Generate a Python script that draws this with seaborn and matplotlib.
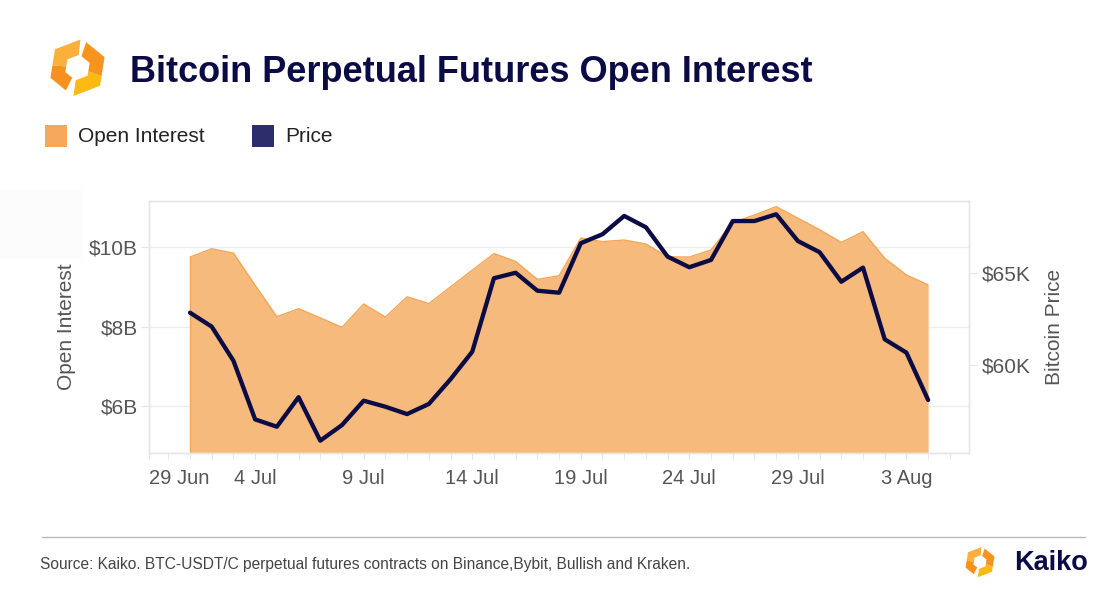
import numpy as np
import pandas as pd
import seaborn as sns
import matplotlib.pyplot as plt
import matplotlib.dates as mdates
from matplotlib.patches import Rectangle, Polygon
from matplotlib.lines import Line2D

# data (1 Jul .. 4 Aug)
dates = pd.date_range("2024-07-01", "2024-08-04", freq="D")
open_interest = [9.75, 9.96, 9.85, 9.04, 8.25, 8.45, 8.22, 7.98, 8.57, 8.24,
                 8.75, 8.58, 9.00, 9.42, 9.84, 9.64, 9.19, 9.28, 10.23, 10.14,
                 10.18, 10.08, 9.76, 9.75, 9.93, 10.62, 10.81, 11.02, 10.73, 10.44,
                 10.12, 10.39, 9.72, 9.30, 9.05]  # $B
price = [62.85, 62.09, 60.23, 57.03, 56.63, 58.24, 55.87, 56.72, 58.05, 57.72,
         57.32, 57.87, 59.22, 60.72, 64.73, 65.03, 64.05, 63.94, 66.64, 67.13,
         68.13, 67.51, 65.91, 65.33, 65.73, 67.85, 67.85, 68.22, 66.76, 66.15,
         64.54, 65.31, 61.40, 60.67, 58.09]  # $K
tick_dates = ["2024-07-04", "2024-07-09", "2024-07-14", "2024-07-19",
              "2024-07-24", "2024-07-29", "2024-08-03"]
tick_labels = ["4 Jul", "9 Jul", "14 Jul", "19 Jul", "24 Jul", "29 Jul", "3 Aug"]
oi_ticks = [6, 8, 10]
price_ticks = [60, 65]

df = pd.DataFrame({"date": dates, "oi": open_interest, "price": price})

W, H = 1120, 603
NAVY = "#0B0B45"
ORANGE_FILL = "#F6BA7D"
ORANGE_EDGE = "#F5A555"
GREY = "#555555"

sns.set_style("white")
plt.rcParams["font.family"] = ["Liberation Sans", "DejaVu Sans"]

fig = plt.figure(figsize=(W / 100, H / 100), dpi=100)


def fx(x):
    return x / W


def fy(y):
    return 1 - y / H


# faint block left of the plot
fig.add_artist(Rectangle((fx(0), fy(258)), fx(82), fy(190) - fy(258),
                         transform=fig.transFigure, color="#fcfcfc", zorder=0))

# plot area
ax = fig.add_axes([fx(149.3), fy(453.3), fx(969.3) - fx(149.3), fy(200.7) - fy(453.3)])
ax2 = ax.twinx()

ax.fill_between(df["date"], df["oi"], 0, color=ORANGE_FILL, lw=0, zorder=1)
sns.lineplot(data=df, x="date", y="oi", ax=ax, color=ORANGE_EDGE, lw=1, zorder=2)
ax.vlines(df["date"].iloc[0], 0, df["oi"].iloc[0], color=ORANGE_EDGE, lw=1, zorder=2)
sns.lineplot(data=df, x="date", y="price", ax=ax2, color=NAVY, lw=3.1, zorder=3)

xl = (pd.Timestamp("2024-06-29 03:00"), pd.Timestamp("2024-08-05 21:30"))
ax.set_xlim(mdates.date2num(xl[0]), mdates.date2num(xl[1]))
ax.set_ylim(4.81, 11.17)
ax2.set_ylim(55.18, 68.96)

# x ticks: first label pinned to the left edge
ticks = [mdates.date2num(xl[0])] + [mdates.date2num(pd.Timestamp(d)) for d in tick_dates]
ax.set_xticks(ticks)
ax.set_xticklabels(["29 Jun"] + tick_labels)
ax.get_xticklabels()[0].set_ha("left")
ax.xaxis.set_minor_locator(mdates.DayLocator())
ax.tick_params(axis="x", which="both", length=4, color="#e4e4e4", labelsize=14.5,
               labelcolor=GREY, pad=7, bottom=True)

ax.set_yticks(oi_ticks)
ax.set_yticklabels([f"${v}B" for v in oi_ticks])
ax.tick_params(axis="y", length=6, color="#e6e6e6", labelsize=15, labelcolor=GREY, pad=2, left=True)
ax2.set_yticks(price_ticks)
ax2.set_yticklabels([f"${v}K" for v in price_ticks])
ax2.tick_params(axis="y", length=6, color="#e6e6e6", labelsize=15, labelcolor=GREY, pad=3, right=True)

ax.grid(axis="y", color="#ececec", lw=1)
ax.grid(axis="x", visible=False)
ax2.grid(False)
for a in (ax, ax2):
    for s in a.spines.values():
        s.set_color("#e6e6e6")
        s.set_linewidth(1)

ax.set_xlabel("")
ax.set_ylabel("Open Interest", fontsize=15, color=GREY)
ax.yaxis.set_label_coords(-0.089, 0.5)
ax2.set_ylabel("Bitcoin Price", fontsize=15, color=GREY)
ax2.yaxis.set_label_coords(1.092, 0.5)


def logo(cx, cy, R, Ri, colors):
    # hexagon ring split into two bands, vertices at 21 + 60k degrees
    def hex_r(phi, rad):
        d = ((phi - 21) % 60) - 30
        return rad * np.cos(np.radians(30)) / np.cos(np.radians(d))

    def band(a, b):
        phis = np.linspace(a, b, 60)
        outer = [(cx + hex_r(p, R) * np.cos(np.radians(p)),
                  cy - hex_r(p, R) * np.sin(np.radians(p))) for p in phis]
        inner = [(cx + hex_r(p, Ri) * np.cos(np.radians(p)),
                  cy - hex_r(p, Ri) * np.sin(np.radians(p))) for p in phis[::-1]]
        return [(fx(x), fy(y)) for x, y in outer + inner]

    spans = [(84, 175), (175, 243), (262, 340), (340, 431)]
    for (a, b), c in zip(spans, colors):
        fig.add_artist(Polygon(band(a, b), closed=True, transform=fig.transFigure,
                               color=c, lw=0))


logo_colors = ["#FBB03B", "#F7901E", "#FDB913", "#F7941D"]
logo(77.5, 67.5, 29, 13, logo_colors)
logo(980, 562, 15.5, 7, logo_colors)

# title and legend
fig.text(fx(130), fy(72), "Bitcoin Perpetual Futures Open Interest", fontsize=26,
         fontweight="bold", color=NAVY, va="center")
fig.add_artist(Rectangle((fx(45), fy(147)), fx(22), fy(125) - fy(147),
                         transform=fig.transFigure, color="#F6A95C", lw=0))
fig.text(fx(78), fy(136), "Open Interest", fontsize=15, color="#222222", va="center")
fig.add_artist(Rectangle((fx(252), fy(147)), fx(22), fy(125) - fy(147),
                         transform=fig.transFigure, color="#2D2D6B", lw=0))
fig.text(fx(285), fy(136), "Price", fontsize=15, color="#222222", va="center")

# footer
fig.add_artist(Line2D([fx(42), fx(1085)], [fy(537), fy(537)], transform=fig.transFigure,
                      color="#bbbbbb", lw=1))
fig.text(fx(40), fy(565), "Source: Kaiko. BTC-USDT/C perpetual futures contracts on Binance,Bybit, Bullish and Kraken.",
         fontsize=11.2, color="#444444", va="center")
fig.text(fx(1088), fy(563), "Kaiko", fontsize=19.5, fontweight="bold", color=NAVY,
         va="center", ha="right")

fig.savefig("out.png", dpi=100)
